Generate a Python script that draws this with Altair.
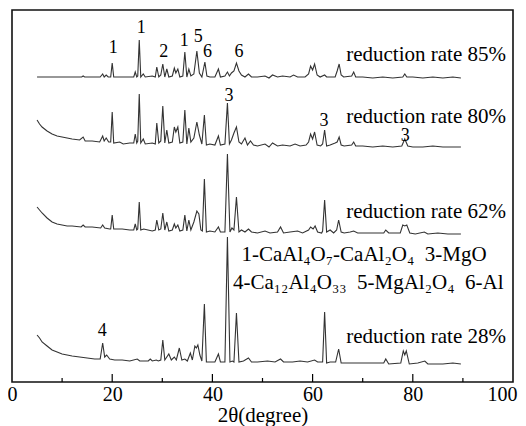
import altair as alt
import pandas as pd

# XRD patterns: (2theta, intensity a.u. incl. stacking offset)
xrd_85 = [(5,305),(10,305),(13.9,305),(14.2,306),(14.5,305),(17.6,305),(18.1,308),(18.4,305),(18.8,307),(19.2,305),(19.7,305),(20.0,319),(20.3,305),(22,305),(24.3,305),(24.6,310),(24.9,305),(25.1,306),(25.4,342),(25.7,305),(26.2,308),(26.6,305),(28.0,306),(28.6,305),(28.9,315),(29.3,305),(29.7,307),(30.1,318),(30.5,305),(30.9,313),(31.3,305),(32.0,306),(32.4,314),(32.7,309),(33.1,313),(33.5,305),(34.1,306),(34.5,330),(34.9,305),(35.3,313),(35.7,306),(36.3,308),(36.9,331),(37.4,309),(37.9,305),(38.5,320),(38.9,306),(39.5,305),(40.5,305),(41.2,313),(41.6,305),(42.5,306),(43.0,310),(43.4,306),(43.8,309),(44.3,311),(44.8,319),(45.3,311),(45.8,307),(46.5,305),(47.2,308),(47.8,305),(49,305),(50.5,306),(51.3,304),(52,307),(53,305),(54,306),(55.5,305),(56.2,307),(57,305),(58.5,305),(59.2,308),(59.6,316),(60.0,312),(60.4,318),(60.9,307),(61.5,305),(62.4,307),(62.8,305),(64.5,305),(64.9,311),(65.3,318),(65.7,307),(66.2,305),(67.8,306),(68.2,310),(68.6,305),(70,305),(72,304),(74,305),(76,304),(78.0,305),(78.4,308),(78.8,305),(80,305),(82,304),(84,305),(86,304),(88,305),(89.6,304)]

xrd_80 = [(5,262),(5.5,258),(6,255),(7,251),(8,248),(9,246),(10,245),(11,244),(12,243),(13.5,242),(14.2,245),(14.6,241),(16,241),(17.5,240),(18.1,246),(18.4,241),(18.8,244),(19.3,240),(19.7,240),(20.0,270),(20.3,239),(21.5,240),(22.2,238),(23.5,239),(24.3,239),(24.6,248),(24.9,239),(25.1,241),(25.4,288),(25.7,239),(26.2,243),(26.6,238),(28.0,239),(28.6,238),(28.9,259),(29.3,239),(29.7,241),(30.1,276),(30.5,239),(30.9,252),(31.3,239),(32.0,240),(32.4,255),(32.7,250),(33.1,255),(33.5,239),(34.1,240),(34.5,272),(34.9,238),(35.3,254),(35.7,240),(36.3,244),(36.9,260),(37.4,247),(37.9,238),(38.4,267),(38.8,237),(39.5,238),(40.5,237),(41.2,246),(41.6,237),(42.5,238),(43.0,279),(43.4,238),(43.8,242),(44.3,249),(44.8,255),(45.3,240),(45.8,238),(46.5,244),(47.0,237),(47.6,241),(48.2,237),(49,236),(50.5,238),(51.3,235),(52,239),(53,236),(54,237),(55.5,236),(56.5,238),(57.5,236),(58.7,237),(59.2,240),(59.6,248),(60.0,243),(60.4,250),(60.9,237),(61.6,236),(62.0,238),(62.4,252),(62.8,236),(63.5,237),(64.5,239),(64.9,240),(65.3,245),(65.7,237),(66.3,236),(67.8,237),(68.2,240),(68.6,236),(70,236),(72,235),(74,236),(76,235),(77.8,236),(78.4,243),(79.0,236),(80,235),(82,235),(84,236),(86,235),(88,235),(89.6,235)]

xrd_62 = [(5,175),(5.5,172),(6,169),(7,164),(8,160),(9,158),(10,157),(11,156),(12,156),(13.8,155),(14.2,157),(14.6,155),(16,155),(17.7,154),(18.1,157),(18.5,154),(19.5,153),(19.7,153),(20.0,167),(20.3,153),(22,153),(23.5,152),(24.3,152),(24.6,158),(24.9,152),(25.1,153),(25.4,180),(25.7,152),(26.3,153),(28.0,151),(28.6,152),(28.9,162),(29.3,152),(29.7,153),(30.1,169),(30.5,152),(30.9,160),(31.3,151),(32.0,152),(32.4,158),(32.7,154),(33.1,157),(33.5,151),(34.1,152),(34.5,167),(34.9,151),(35.3,162),(35.7,152),(36.3,160),(36.9,171),(37.3,168),(37.7,152),(38.0,151),(38.4,203),(38.8,150),(39.5,151),(40.5,150),(41.2,155),(41.6,150),(42.5,150),(43.0,228),(43.5,150),(43.9,154),(44.3,152),(44.8,185),(45.3,150),(45.8,152),(46.5,150),(47.2,153),(47.8,150),(49,149),(50.5,151),(51.5,149),(53,150),(53.6,155),(54.2,149),(55.5,150),(57,151),(58,149),(59.2,152),(59.6,155),(60.1,153),(60.5,156),(61,150),(61.8,149),(62.0,151),(62.4,182),(62.8,150),(63.5,152),(64.2,149),(64.8,152),(65.2,162),(65.7,150),(66.3,149),(67.5,150),(68.2,151),(69,149),(71,149),(73,149),(74.2,149),(74.6,152),(75.2,149),(77.5,149),(78.0,157),(78.4,156),(78.8,157),(79.4,149),(80.5,148),(82.3,150),(83,148),(85,149),(87,148),(89.6,148)]

xrd_28 = [(5,47),(5.5,44),(6,40),(7,36),(8,32),(9,30),(10,28),(11,27),(12,26),(13.5,25),(15,24),(16.5,23),(17.6,23),(18.1,39),(18.5,25),(18.9,27),(19.5,23),(20.5,22),(22,22),(23.5,21),(25,23),(25.5,21),(27.2,21),(27.6,23),(28.0,21),(28.8,22),(29.2,21),(29.7,22),(30.1,42),(30.5,22),(31.3,28),(31.8,22),(32.4,25),(32.8,22),(33.4,34),(33.9,22),(34.5,23),(35.0,21),(35.6,29),(36.0,22),(36.5,36),(36.8,34),(37.1,37),(37.5,27),(37.9,21),(38.4,78),(38.8,20),(39.5,20),(40.5,20),(41.2,28),(41.6,20),(42.5,20),(43.0,145),(43.5,20),(44.0,21),(44.3,20),(44.8,69),(45.3,20),(46.2,21),(47.2,24),(47.8,20),(49,20),(51,21),(52.5,20),(53.6,23),(54.2,20),(56,20),(57.5,21),(59,20),(60.4,22),(61,20),(62.0,20),(62.4,70),(62.8,19),(63.5,20),(64.6,20),(65.2,33),(65.7,19),(67,19),(70,19),(72,19),(74.2,19),(74.6,23),(75.2,18),(77.6,19),(78.1,31),(78.4,27),(78.7,31),(79.3,18),(81,19),(82.4,21),(83,18),(86,18),(88,19),(89.6,18)]

series_names = ["85%", "80%", "62%", "28%"]
series_data = [xrd_85, xrd_80, xrd_62, xrd_28]

# Peak labels
peak_text = ["1", "1", "2", "1", "5", "6", "6", "3", "3", "3", "4"]
peak_x = [20.2, 25.8, 30.3, 34.4, 37.2, 39.0, 45.3, 43.3, 62.3, 78.5, 18.0]
peak_y = [334, 354, 330, 341, 345, 330, 330, 286, 261, 246, 51]

# Curve labels
rate_text = ["reduction rate 85%", "reduction rate 80%", "reduction rate 62%", "reduction rate 28%"]
rate_x = [98.6, 98.6, 98.6, 98.6]
rate_y = [327, 265, 170, 45]

# Phase legend
NB = "\u00a0"
legend_text = ["1-CaAl\u2084O\u2087-CaAl\u2082O\u2084" + NB + NB + "3-MgO",
               "4-Ca\u2081\u2082Al\u2084O\u2083\u2083" + NB + NB + "5-MgAl\u2082O\u2084" + NB + NB + "6-Al"]
legend_x = [45.8, 44.1]
legend_y = [127, 99]

major_ticks = [20, 40, 60, 80]
minor_ticks = [10, 30, 50, 70, 90]

rows = []
for name, pts in zip(series_names, series_data):
    for a, v in pts:
        rows.append({"series": name, "angle": a, "intensity": v})
df = pd.DataFrame(rows)

FONT = "Liberation Serif"
xscale = alt.Scale(domain=[0, 100], nice=False)
yscale = alt.Scale(domain=[0, 372], nice=False)

lines = alt.Chart(df).mark_line(color="#333333", strokeWidth=1.1).encode(
    x=alt.X("angle:Q", scale=xscale,
            axis=alt.Axis(values=[0, 20, 40, 60, 80, 100], title="2θ(degree)",
                          domain=False, ticks=False, tickSize=0, grid=False,
                          labelFont=FONT, labelFontSize=20, labelColor="black",
                          labelPadding=2, labelFlush=False,
                          labelOffset={"condition": {"test": "datum.value == 100", "value": -11}, "value": 0},
                          titleFont=FONT, titleFontSize=21, titleFontWeight="normal",
                          titleColor="black", titlePadding=0)),
    y=alt.Y("intensity:Q", scale=yscale, axis=None),
    detail="series:N",
)

peaks = alt.Chart(pd.DataFrame({"t": peak_text, "x": peak_x, "y": peak_y})).mark_text(
    font=FONT, fontSize=18, color="black", align="center", baseline="middle"
).encode(x=alt.X("x:Q", scale=xscale), y=alt.Y("y:Q", scale=yscale), text="t:N")

rates = alt.Chart(pd.DataFrame({"t": rate_text, "x": rate_x, "y": rate_y})).mark_text(
    font=FONT, fontSize=21, color="black", align="right", baseline="middle"
).encode(x=alt.X("x:Q", scale=xscale), y=alt.Y("y:Q", scale=yscale), text="t:N")

legend = alt.Chart(pd.DataFrame({"t": legend_text, "x": legend_x, "y": legend_y})).mark_text(
    font=FONT, fontSize=21, color="black", align="left", baseline="middle"
).encode(x=alt.X("x:Q", scale=xscale), y=alt.Y("y:Q", scale=yscale), text="t:N")

maj = alt.Chart(pd.DataFrame({"x": major_ticks})).mark_rule(color="black", strokeWidth=1.2).encode(
    x=alt.X("x:Q", scale=xscale), y=alt.value(372), y2=alt.value(364))
mnr = alt.Chart(pd.DataFrame({"x": minor_ticks})).mark_rule(color="black", strokeWidth=1.2).encode(
    x=alt.X("x:Q", scale=xscale), y=alt.value(372), y2=alt.value(368))

chart = alt.layer(lines, maj, mnr, peaks, rates, legend).properties(
    width=501, height=372,
    autosize=alt.AutoSizeParams(type="none"),
    padding={"left": 4, "top": 2, "right": 5, "bottom": 44},
    background="white",
).configure(font=FONT).configure_view(stroke="#111111", strokeWidth=1.6)

chart.save("out.html", embed_options={"renderer": "svg", "actions": False})
